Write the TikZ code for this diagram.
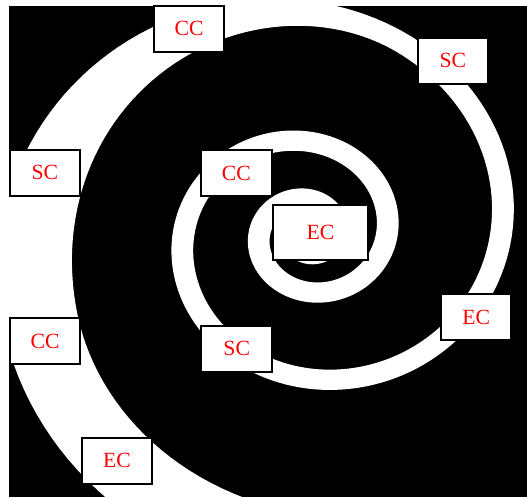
\documentclass[tikz,border=0pt]{standalone}
\usepackage{fontspec}
\newfontfamily\labelserif{Liberation Serif}
\newcommand\tagfont{\labelserif\fontsize{18.5pt}{22pt}\selectfont}
\tikzset{
    tag/.style={draw=black, line width=0.6mm, fill=white, text=red, font=\tagfont, inner sep=0pt, minimum width=21.15mm, minimum height=13.8mm},
    coretag/.style={tag, minimum width=28.5mm, minimum height=16.4mm},
    band/.style={fill=white},
    ground/.style={fill=black}
}

\begin{document}
\begin{tikzpicture}[x=0.3mm, y=-0.3mm,
    declare function={
        rout(\t)=39.6*exp(0.1305*rad(\t));
        tgrow(\t)=min(1,max(0,(\t-785)/135));
        wband(\t)=22+54*(3-2*tgrow(\t))*tgrow(\t)*tgrow(\t);
        rin(\t)=rout(\t)-wband(\t);
    }]
    \useasboundingbox (0,0) rectangle (527,497);
    % black square with the white spiral band
    \begin{scope}
        \clip (8.7,6.2) rectangle (527,497);
        \fill[ground] (8.7,6.2) rectangle (527,497);
        \fill[band] plot[domain=-240:1000, samples=500, variable=\t]
            ({308+rout(\t)*cos(\t)}, {234-0.93*rout(\t)*sin(\t)})
            -- plot[domain=0:1240, samples=500, variable=\t]
            ({308+rin(1000-\t)*cos(1000-\t)}, {234-0.93*rin(1000-\t)*sin(1000-\t)})
            -- cycle;
    \end{scope}
    % labels along the spiral
    \node (core)  [coretag] at (320.5,232.8) {EC};
    \node (ccin)  [tag] at (236.4,173.3) {CC};
    \node (scin)  [tag] at (236.7,348.7) {SC};
    \node (ecmid) [tag] at (476.2,317.0) {EC};
    \node (scmid) [tag] at (452.8,60.7) {SC};
    \node (ccmid) [tag] at (189.0,28.8) {CC};
    \node (scout) [tag] at (44.8,172.8) {SC};
    \node (ccout) [tag] at (45.0,341.2) {CC};
    \node (ecout) [tag] at (117.0,460.8) {EC};
\end{tikzpicture}
\end{document}
